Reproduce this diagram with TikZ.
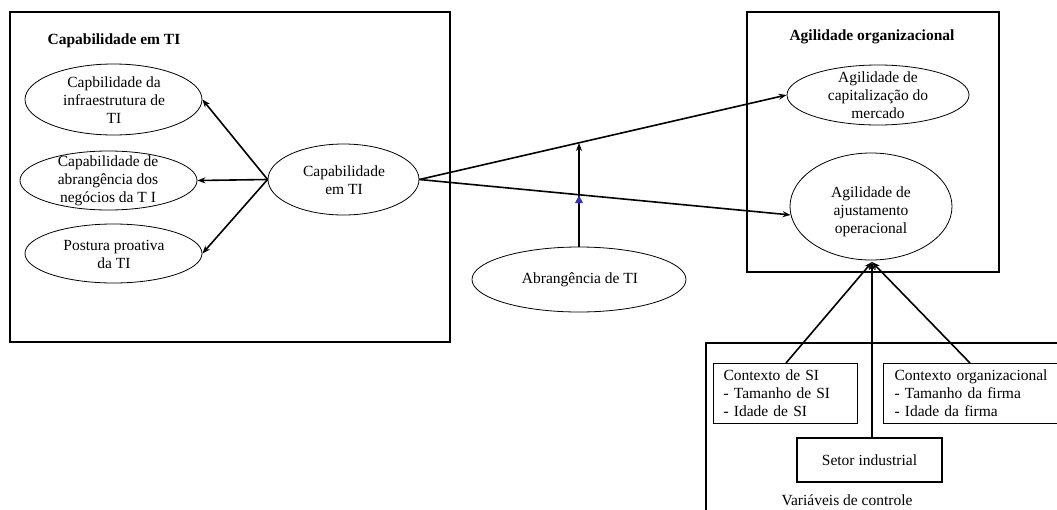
\documentclass[tikz,border=0pt]{standalone}
\usepackage{fontspec}
\setmainfont{Liberation Serif}
\usetikzlibrary{arrows.meta,shapes.geometric}
\begin{document}
\begin{tikzpicture}[x=1pt,y=-1pt,
  every node/.style={font=\fontsize{15.5}{18}\selectfont},
  frame/.style={draw,line width=1.1pt},
  ell/.style={draw,ellipse,line width=0.8pt,inner sep=0pt},
  txt/.style={align=center,inner sep=0pt},
  ttl/.style={font=\fontsize{15.5}{18}\selectfont\bfseries,inner sep=0pt},
  arr/.style={line width=1.6pt,-{Stealth[length=8pt,width=6pt]}},
  lbox/.style={draw,line width=1.1pt,align=left,anchor=north west,inner xsep=10pt,inner ysep=3pt}]
\useasboundingbox (0,0) rectangle (1057,509);
% frames
\draw[frame] (10,12) rectangle (450,342);
\draw[frame] (747,12) rectangle (999,272);
\draw[frame] (1070,343) -- (706,343) -- (706,520);
\node[ttl] (t1) at (114,41) {Capabilidade em TI};
\node[ttl] (t2) at (872,37) {Agilidade organizacional};
% left ellipses
\node[ell,minimum width=177pt,minimum height=71pt] (e1) at (113.5,99.5) {};
\node[txt] (e1t) at (114,100) {Capbilidade da\\infraestrutura de\\TI};
\node[ell,minimum width=177pt,minimum height=59pt] (e2) at (108.5,180.5) {};
\node[txt] (e2t) at (108,181) {Capabilidade de\\abrangência dos\\negócios da T I};
\node[ell,minimum width=177pt,minimum height=59pt] (e3) at (113.5,253.5) {};
\node[txt] (e3t) at (114,254) {Postura proativa\\da TI};
\node[ell,minimum width=151pt,minimum height=71pt] (c) at (343.5,179.5) {};
\node[txt] (ct) at (344,180) {Capabilidade\\em TI};
% abrangencia
\node[ell,minimum width=214pt,minimum height=65pt] (ab) at (579,279.5) {};
\node[txt] (abt) at (580,280) {Abrangência de TI};
% right ellipses
\node[ell,minimum width=182pt,minimum height=60pt] (a1) at (878,95) {};
\node[txt] (a1t) at (878,95) {Agilidade de\\capitalização do\\mercado};
\node[ell,minimum width=162pt,minimum height=107pt] (a2) at (871,206.5) {};
\node[txt] (a2t) at (871,212) {Agilidade de\\ajustamento\\operacional};
% control boxes
\node[lbox,text width=124pt,minimum height=60pt] (si) at (713,363) {Contexto de SI\\- Tamanho de SI\\- Idade de SI};
\node[lbox,inner xsep=11pt,text width=158pt,minimum height=60pt] (org) at (883,363) {Contexto organizacional\\- Tamanho da firma\\- Idade da firma};
\node[draw,line width=1.1pt,minimum width=145pt,minimum height=44pt,inner sep=0pt] (set) at (869.5,460) {Setor industrial};
\node[inner sep=0pt] (vc) at (847,500) {Variáveis de controle};
% arrows
\draw[arr] (c.west) -- (e1.east);
\draw[arr] (c.west) -- (e2.east);
\draw[arr] (c.west) -- (e3.east);
\draw[arr] (c.east) -- (a1.west);
\draw[arr] (c.east) -- (a2.186);
\coordinate (m1) at (579,143);
\draw[arr] (ab.north) -- (m1);
\fill[blue!55!black!80] (575,203) -- (579,195.5) -- (583,203) -- cycle;
\coordinate (bot) at (872,262);
\coordinate (sitop) at (786,363);
\coordinate (orgtop) at (970,363);
\draw[arr] (sitop) -- (bot);
\draw[arr] (orgtop) -- (bot);
\draw[arr] (set.north -| bot) -- (bot);
\end{tikzpicture}
\end{document}
